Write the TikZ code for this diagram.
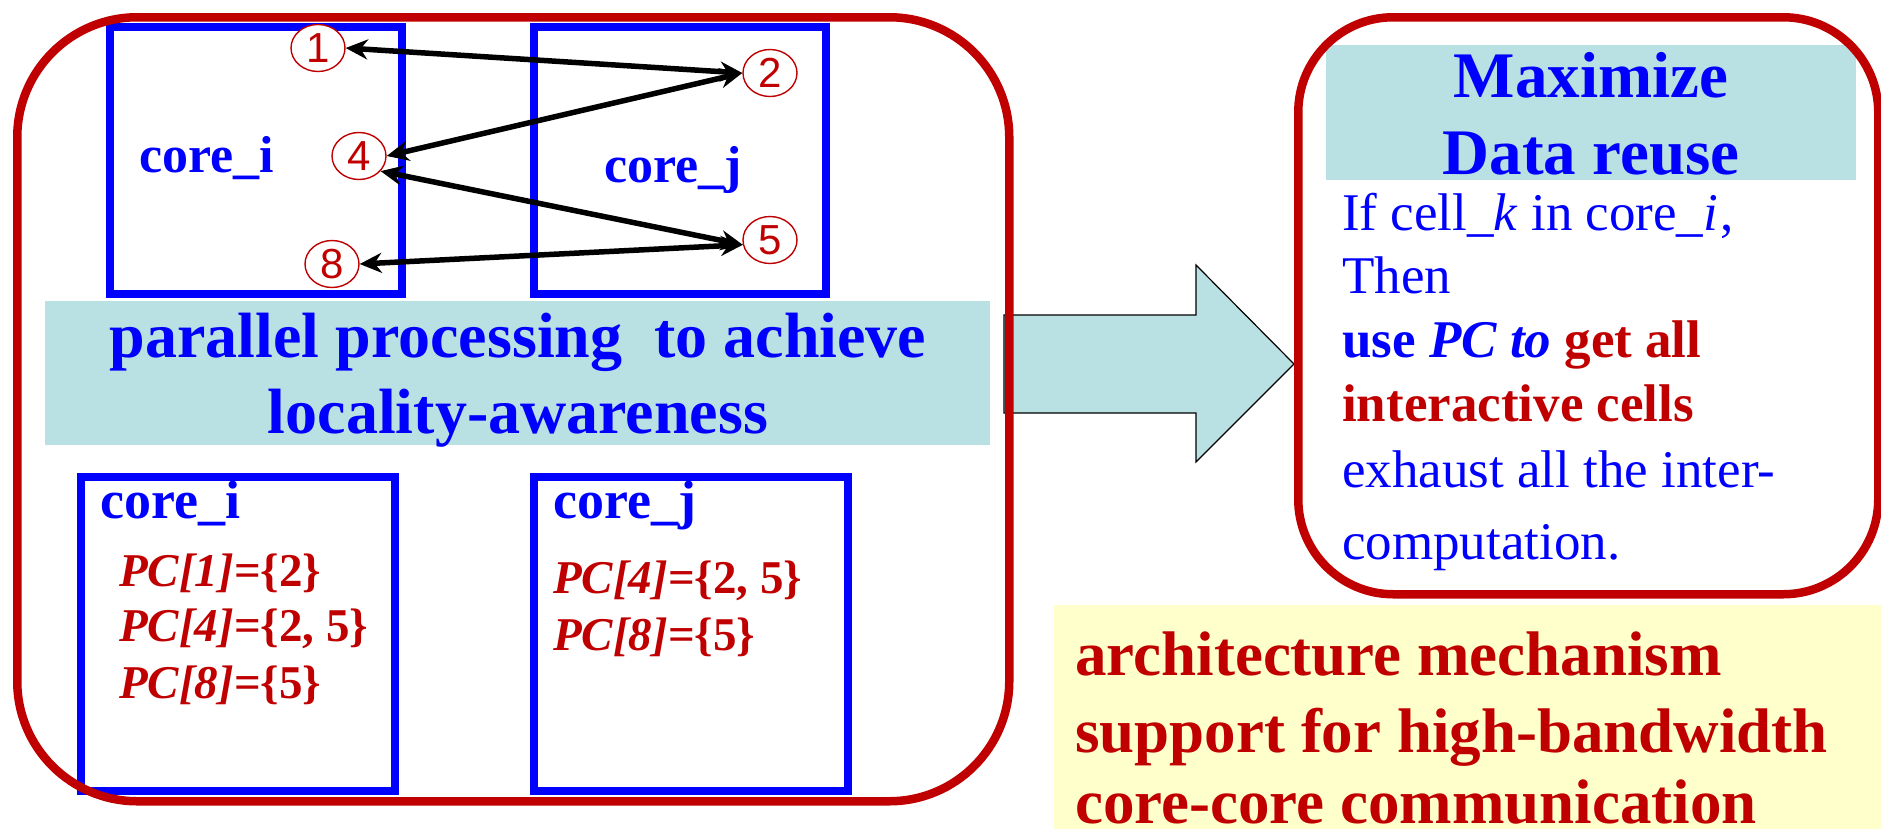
\documentclass[tikz,border=0pt]{standalone}
\usepackage{fontspec}
\setmainfont{Liberation Serif}
\newfontfamily\numfont{Liberation Sans}
\usetikzlibrary{arrows.meta,shapes.geometric}
\definecolor{dred}{RGB}{192,0,0}
\definecolor{lblue}{RGB}{185,224,226}
\definecolor{lyel}{RGB}{255,255,204}
\definecolor{pblue}{RGB}{0,0,255}
\newcommand{\fs}[1]{\fontsize{#1}{#1}\selectfont}
\begin{document}
\begin{tikzpicture}[x=1pt,y=-1pt,
  corebox/.style={draw=pblue,line width=7.5pt,anchor=north west,inner sep=0pt},
  redbox/.style={draw=dred,line width=8.5pt,anchor=north west,inner sep=0pt},
  band/.style={fill=lblue,anchor=north west,inner sep=0pt},
  num/.style={ellipse,draw=dred,line width=1.4pt,fill=white,text=dred,font=\numfont\fs{42},minimum width=54pt,minimum height=47pt,inner sep=0pt},
  link/.style={line width=5.5pt,{Stealth[length=22pt,width=20pt]}-{Stealth[length=22pt,width=20pt]}},
  lbl/.style={inner sep=0pt,anchor=base west},
  cbl/.style={inner sep=0pt,anchor=base},
  bigarrow/.style={fill=lblue,draw=black,line width=1.2pt,line join=miter}
]
\useasboundingbox (0,0) rectangle (1881,833);
% bands
\node[band,minimum width=945pt,minimum height=144pt] (band) at (45,301) {};
\node[band,minimum width=530pt,minimum height=135pt] (head) at (1326,45) {};
\node[fill=lyel,anchor=north west,inner sep=0pt,minimum width=827pt,minimum height=224pt] (yel) at (1054,605) {};
% core boxes
\node[corebox,minimum width=292pt,minimum height=267pt] (ti) at (106,23) {};
\node[corebox,minimum width=292pt,minimum height=267pt] (tj) at (530,23) {};
\node[corebox,minimum width=314pt,minimum height=314pt] (bi) at (77,473) {};
\node[corebox,minimum width=314pt,minimum height=314pt] (bj) at (530,473) {};
% big arrow
\draw[bigarrow] (1004,315) -- (1196,315) -- (1196,265) -- (1294,364) -- (1196,462) -- (1196,413) -- (1004,413) -- cycle;
% red boxes
\node[redbox,rounded corners=120pt,minimum width=992pt,minimum height=784pt] (left) at (13,13) {};
\node[redbox,rounded corners=95pt,minimum width=580pt,minimum height=577pt] (right) at (1294,13) {};
% top core labels
\node[cbl,text=pblue,font=\bfseries\fs{52}] (li) at (207,172) {core\_i};
\node[cbl,text=pblue,font=\bfseries\fs{52}] (lj) at (673,182) {core\_j};
% circled numbers
\node[num] (c1) at (318,48) {1};
\node[num] (c2) at (770,73) {2};
\node[num] (c4) at (359,156) {4};
\node[num] (c5) at (770,240) {5};
\node[num] (c8) at (332,264) {8};
\draw[link] (c1.east) -- (c2.west);
\draw[link] (c2.west) -- (c4.east);
\draw[link] (c4.-35) -- (c5.190);
\draw[link] (c5.190) -- (c8.east);
% band text
\node[cbl,text=pblue,font=\bfseries\fs{64}] (t1) at (518,357) {parallel processing\ \ to achieve};
\node[cbl,text=pblue,font=\bfseries\fs{64}] (t2) at (518,433) {locality-awareness};
% bottom core labels
\node[lbl,text=pblue,font=\bfseries\fs{54}] (bli) at (100,518) {core\_i};
\node[lbl,text=pblue,font=\bfseries\fs{54}] (blj) at (553,518) {core\_j};
\node[lbl,text=dred,font=\bfseries\fs{47}] (p1) at (119,586) {\textit{PC[1]}=\{2\}};
\node[lbl,text=dred,font=\bfseries\fs{47}] (p4) at (119,641) {\textit{PC[4]}=\{2, 5\}};
\node[lbl,text=dred,font=\bfseries\fs{47}] (p8) at (119,698) {\textit{PC[8]}=\{5\}};
\node[lbl,text=dred,font=\bfseries\fs{47}] (q4) at (553,593) {\textit{PC[4]}=\{2, 5\}};
\node[lbl,text=dred,font=\bfseries\fs{47}] (q8) at (553,650) {\textit{PC[8]}=\{5\}};
% right header
\node[cbl,text=pblue,font=\bfseries\fs{65}] (h1) at (1591,97) {Maximize};
\node[cbl,text=pblue,font=\bfseries\fs{65}] (h2) at (1591,174) {Data reuse};
% right body
\node[lbl,text=pblue,font=\fs{53}] (r1) at (1342,230) {If cell\_\textit{k} in core\_\textit{i}\kern2pt,};
\node[lbl,text=pblue,font=\fs{53}] (r2) at (1342,293) {Then};
\node[lbl,font=\bfseries\fs{53}] (r3) at (1342,357) {\textcolor{pblue}{use \textit{PC to}} \textcolor{dred}{get all}};
\node[lbl,text=dred,font=\bfseries\fs{53}] (r4) at (1342,421) {interactive cells};
\node[lbl,text=pblue,font=\fs{53}] (r5) at (1342,487) {exhaust all the inter-};
\node[lbl,text=pblue,font=\fs{53}] (r6) at (1342,559) {computation.};
% yellow text
\node[lbl,text=dred,font=\bfseries\fs{63}] (y1) at (1075,675) {architecture mechanism};
\node[lbl,text=dred,font=\bfseries\fs{63}] (y2) at (1075,752) {support for high-bandwidth};
\node[lbl,text=dred,font=\bfseries\fs{63}] (y3) at (1075,823) {core-core communication};
\end{tikzpicture}
\end{document}
